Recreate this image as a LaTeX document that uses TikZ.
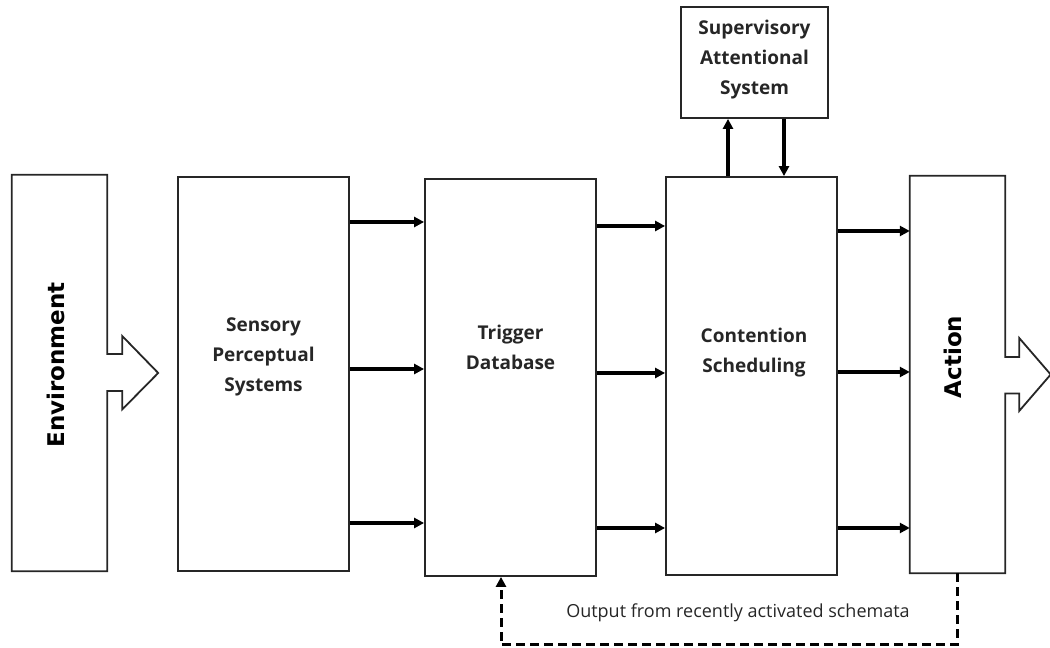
\documentclass[tikz,border=0pt]{standalone}
\usepackage{fontspec}
\setmainfont{Open Sans}
\newfontfamily\headfont{DejaVu Sans}
\usetikzlibrary{arrows.meta,calc}
\begin{document}
\begin{tikzpicture}[x=1pt,y=1pt,
  blk/.style={draw=black!85, line width=1.8pt, minimum width=171pt, inner sep=0pt},
  lbl/.style={font=\bfseries\fontsize{19}{30}\selectfont, align=center, text=black!85, inner sep=0pt},
  side/.style={font=\headfont\bfseries\fontsize{23}{26}\selectfont, rotate=90, inner sep=0pt},
  flow/.style={line width=3.3pt, -{Triangle[length=10pt,width=10pt]}},
  fb/.style={line width=3pt, dash pattern=on 9pt off 5pt, -{Triangle[length=10pt,width=10pt]}},
  outline/.style={draw=black!85, line width=1.8pt}]
\useasboundingbox (0,0) rectangle (1050,648);

% boxes
\node[blk, minimum height=394pt] (sps) at (263.5,274) {};
\node[blk, minimum height=397pt] (trig) at (510.5,270.5) {};
\node[blk, minimum height=398pt] (cont) at (751.5,272) {};
\node[blk, minimum width=147pt, minimum height=111pt] (sas) at (754.5,585.5) {};
\node[minimum width=95pt, minimum height=396pt, inner sep=0pt] (env) at (59.5,275) {};
\node[minimum width=95pt, minimum height=397pt, inner sep=0pt] (act) at (957.5,273.5) {};

% environment block with its outgoing block arrow
\draw[outline] (env.north west) -- (env.north east) -- ($(env.east)+(0,19)$)
  -- ++(15,0) -- ++(0,18) -- ++(36,-37) -- ++(-36,-36.5) -- ++(0,18.5)
  -- ++(-15,0) -- (env.south east) -- (env.south west) -- cycle;
% action block with its outgoing block arrow
\draw[outline] (act.north west) -- (act.north east) -- ($(act.east)+(0,17.5)$)
  -- ++(14,0) -- ++(0,19) -- ++(31.5,-36.5) -- ++(-31.5,-36.5) -- ++(0,17.5)
  -- ++(-14,0) -- (act.south east) -- (act.south west) -- cycle;

% labels
\node[lbl] (sps-t) at (263.5,291) {Sensory\\Perceptual\\Systems};
\node[lbl] (trig-t) at (510.5,300.5) {Trigger\\Database};
\node[lbl] (cont-t) at (754,295) {Contention\\Scheduling};
\node[lbl] (sas-t) at (754.5,588) {Supervisory\\Attentional\\System};
\node[side] (env-t) at (56,283) {Environment};
\node[side] (act-t) at (953,291) {Action};

% forward connections
\foreach \y in {426,279,125} \draw[flow] (sps.east |- 0,\y) -- (trig.west |- 0,\y);
\foreach \y in {422,275,120} \draw[flow] (trig.east |- 0,\y) -- (cont.west |- 0,\y);
\foreach \y in {417,276,120} \draw[flow] (cont.east |- 0,\y) -- (act.west |- 0,\y);

% links with the supervisory system
\draw[flow] (cont.north -| 728,0) -- (sas.south -| 728,0);
\draw[flow] (sas.south -| 784,0) -- (cont.north -| 784,0);

% feedback from action to the trigger database
\coordinate (fbr) at (957,3);
\draw[fb] (act.south -| fbr) -- (fbr) -| ([xshift=-9.5pt]trig.south);
\node[font=\fontsize{18}{22}\selectfont, text=black!85] (fb-t) at (738,35) {Output from recently activated schemata};
\end{tikzpicture}
\end{document}
